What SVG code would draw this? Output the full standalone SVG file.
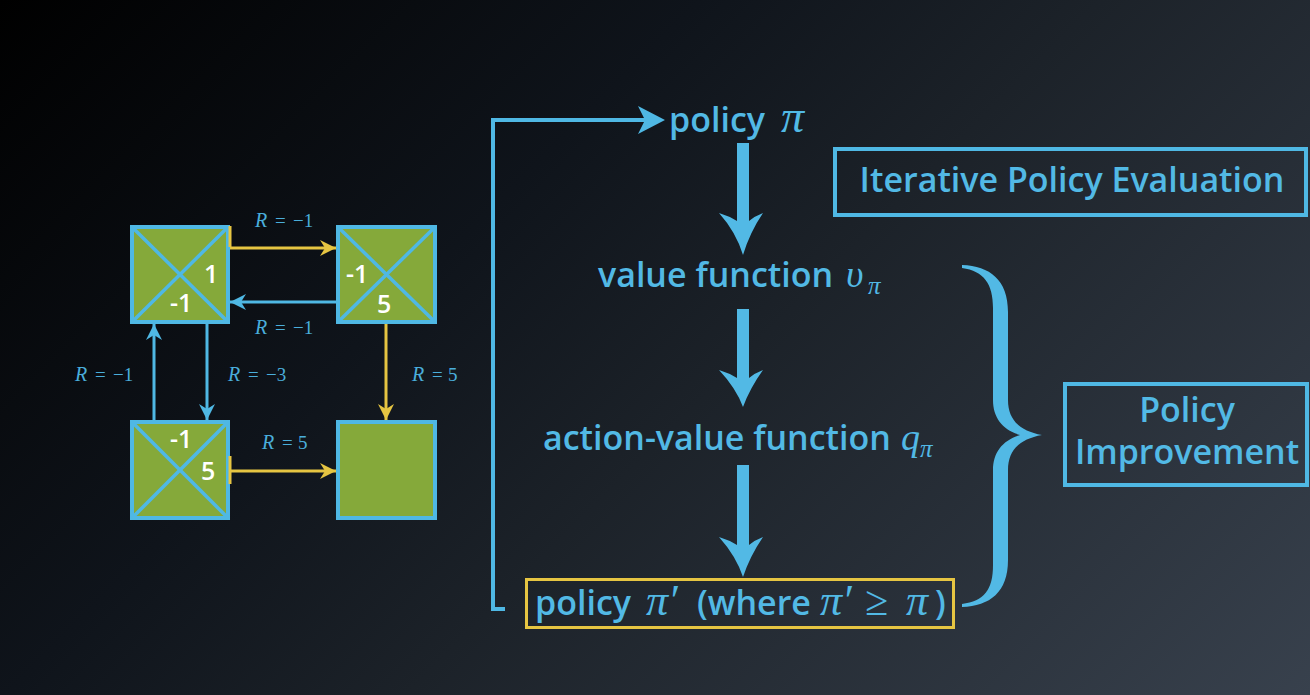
<svg xmlns="http://www.w3.org/2000/svg" width="1310" height="695" viewBox="0 0 1310 695">
<defs>
<linearGradient id="bg" gradientUnits="userSpaceOnUse" x1="0" y1="0" x2="1002" y2="1002">
<stop offset="0" stop-color="#000000"/>
<stop offset="0.35" stop-color="#0f141b"/>
<stop offset="0.55" stop-color="#1c2229"/>
<stop offset="1" stop-color="#38414d"/>
</linearGradient>
<marker id="ay" markerUnits="userSpaceOnUse" markerWidth="16" markerHeight="16" refX="16" refY="8" orient="auto">
<path d="M0,0 L16,8 L0,16 L5,8 Z" fill="#e6c542"/>
</marker>
<marker id="ab" markerUnits="userSpaceOnUse" markerWidth="16" markerHeight="16" refX="16" refY="8" orient="auto">
<path d="M0,0 L16,8 L0,16 L5,8 Z" fill="#4fb8e4"/>
</marker>
<style>
.cell{fill:#85a93a;stroke:#4fb8e4;stroke-width:4}
.diag{stroke:#4fb8e4;stroke-width:3.5}
.num{font-family:"Open Sans","Noto Sans",sans-serif;font-weight:600;font-size:25px;fill:#ffffff}
.rl{font-family:"Liberation Serif",serif;font-size:19px;fill:#4aaedb}
.ri{font-family:"Liberation Serif",serif;font-size:20px;font-style:italic;fill:#4aaedb}
.ylw{stroke:#e6c542;stroke-width:3;fill:none}
.blu{stroke:#4fb8e4;stroke-width:3;fill:none}
.lbl{font-family:"Open Sans","Noto Sans",sans-serif;font-weight:600;font-size:34px;fill:#52b9e5}
.m{font-family:"Liberation Serif",serif;font-style:italic;fill:#52b9e5}
.frame{fill:none;stroke:#4fb8e4;stroke-width:4}
.big{fill:#52b9e5}
</style>
</defs>
<rect x="0" y="0" width="1310" height="695" fill="url(#bg)"/>

<g id="cell1">
<rect class="cell" x="132" y="227" width="96" height="95"/>
<line class="diag" x1="132" y1="227" x2="228" y2="322"/>
<line class="diag" x1="228" y1="227" x2="132" y2="322"/>
<text class="num" x="204" y="283">1</text>
<text class="num" x="170" y="312">-1</text>
</g>
<g id="cell2">
<rect class="cell" x="338" y="227" width="97" height="95"/>
<line class="diag" x1="338" y1="227" x2="435" y2="322"/>
<line class="diag" x1="435" y1="227" x2="338" y2="322"/>
<text class="num" x="346" y="283">-1</text>
<text class="num" x="377" y="313">5</text>
</g>
<g id="cell3">
<rect class="cell" x="132" y="422" width="96" height="96"/>
<line class="diag" x1="132" y1="422" x2="228" y2="518"/>
<line class="diag" x1="228" y1="422" x2="132" y2="518"/>
<text class="num" x="170" y="448">-1</text>
<text class="num" x="201" y="480">5</text>
</g>
<g id="cell4">
<rect class="cell" x="338" y="422" width="97" height="96"/>
</g>

<g id="connectors">
<line class="ylw" x1="230" y1="248" x2="336" y2="248" marker-end="url(#ay)"/>
<line class="ylw" x1="230" y1="226" x2="230" y2="247" stroke-width="2"/>
<line class="blu" x1="336" y1="302" x2="230" y2="302" marker-end="url(#ab)"/>
<line class="blu" x1="154" y1="420" x2="154" y2="324" marker-end="url(#ab)"/>
<line class="blu" x1="207" y1="324" x2="207" y2="420" marker-end="url(#ab)"/>
<line class="ylw" x1="386" y1="324" x2="386" y2="420" marker-end="url(#ay)"/>
<line class="ylw" x1="230" y1="471" x2="336" y2="471" marker-end="url(#ay)"/>
<line class="ylw" x1="230" y1="456" x2="230" y2="484" stroke-width="2"/>
<polyline points="505,609 493,609 493,120 646,120" fill="none" stroke="#4fb8e4" stroke-width="4"/>
<path d="M665,120 L638,106 L645,120 L638,134 Z" fill="#4fb8e4"/>
<path class="big" d="M737,143 H749 V221 Q755,216 763,213 Q750,232 743,255 Q736,232 719,213 Q729,216 737,221 Z"/>
<path class="big" d="M737,309 H749 V378 Q755,373 763,370 Q750,388 743,407 Q736,388 719,370 Q729,373 737,378 Z"/>
<path class="big" d="M737,465 H749 V545 Q755,540 763,537 Q750,556 743,577 Q736,556 719,537 Q729,540 737,545 Z"/>
</g>

<g id="rewards">
<text class="ri" x="255" y="227">R</text><text class="rl" x="275" y="227">=</text><text class="rl" x="293" y="227">−1</text>
<text class="ri" x="255" y="334">R</text><text class="rl" x="275" y="334">=</text><text class="rl" x="293" y="334">−1</text>
<text class="ri" x="75" y="381">R</text><text class="rl" x="95" y="381">=</text><text class="rl" x="113" y="381">−1</text>
<text class="ri" x="228" y="381">R</text><text class="rl" x="248" y="381">=</text><text class="rl" x="266" y="381">−3</text>
<text class="ri" x="412" y="381">R</text><text class="rl" x="432" y="381">=</text><text class="rl" x="448" y="381">5</text>
<text class="ri" x="262" y="449">R</text><text class="rl" x="282" y="449">=</text><text class="rl" x="298" y="449">5</text>
</g>

<g id="policy">
<text class="lbl" x="669" y="132">policy</text>
<text class="m" x="781" y="132" font-size="46">π</text>
</g>
<g id="value">
<text class="lbl" x="598" y="287">value function</text>
<text class="m" x="846" y="287" font-size="38">υ</text>
<text class="m" x="868" y="294" font-size="25">π</text>
</g>
<g id="action">
<text class="lbl" x="543" y="450">action-value function</text>
<text class="m" x="901" y="450" font-size="38">q</text>
<text class="m" x="920" y="457" font-size="25">π</text>
</g>
<g id="newpolicy">
<rect x="526.5" y="579.5" width="427" height="48" fill="none" stroke="#e6c542" stroke-width="3"/>
<text class="lbl" x="535" y="615">policy</text>
<text class="m" x="646" y="615" font-size="44">π′</text>
<text class="lbl" x="697" y="615">(where</text>
<text class="m" x="820" y="615" font-size="44">π′</text>
<text x="865" y="615" font-family="Liberation Serif,serif" font-size="42" fill="#52b9e5">≥</text>
<text class="m" x="906" y="615" font-size="44">π</text>
<text class="lbl" x="935" y="615">)</text>
</g>
<g id="ipe">
<rect class="frame" x="835" y="149" width="471" height="66"/>
<text class="lbl" x="1072" y="192" text-anchor="middle">Iterative Policy Evaluation</text>
</g>
<g id="brace">
<path class="big" d="M962,265 C990,266 1008,280 1008,312 L1008,400 C1008,420 1020,431 1042,435 C1020,439 1008,450 1008,470 L1008,560 C1008,592 990,606 962,607 L962,604 C984,601 993,590 993,565 L993,470 C993,452 1003,440 1020,435 C1003,430 993,418 993,400 L993,308 C993,284 984,271 962,268 Z"/>
</g>
<g id="pi">
<rect class="frame" x="1065" y="384" width="242" height="101"/>
<text class="lbl" x="1187" y="422" text-anchor="middle">Policy</text>
<text class="lbl" x="1187" y="464" text-anchor="middle">Improvement</text>
</g>
</svg>
